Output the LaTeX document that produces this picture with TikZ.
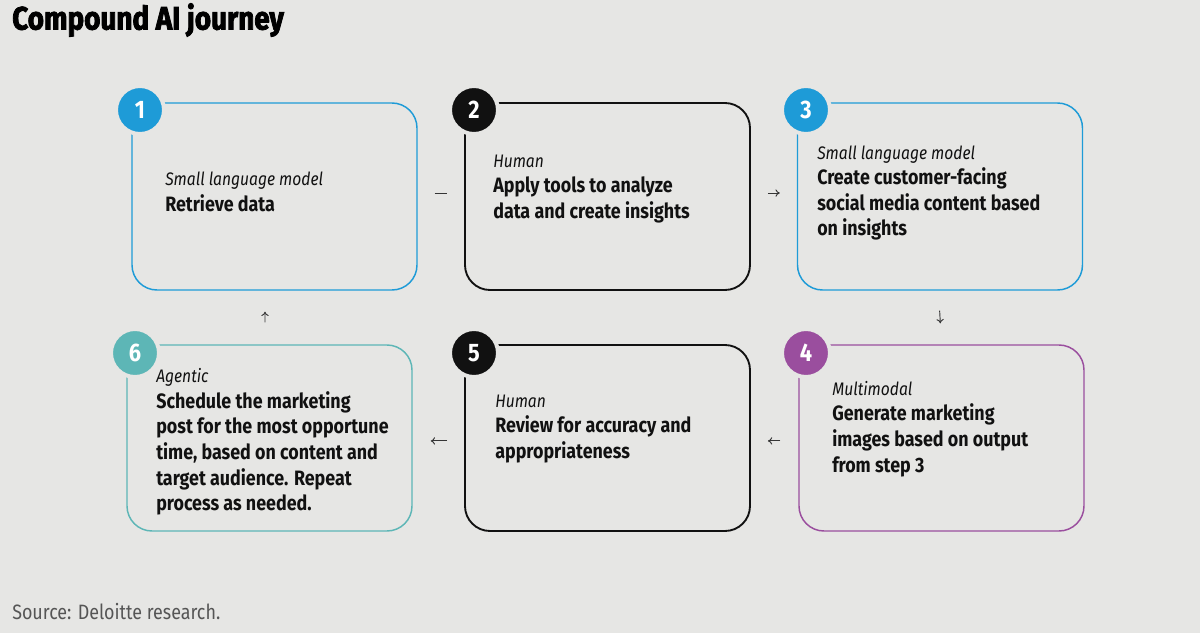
\documentclass[tikz,border=0pt]{standalone}
\usepackage{fontspec}
\setmainfont{Fira Sans}[FakeStretch=0.86]
\newfontfamily\titlefont{Fira Sans}[FakeStretch=0.86,UprightFont=*,BoldFont=* Bold,FakeBold=2.5]
\usetikzlibrary{arrows.meta}
\definecolor{bg}{HTML}{E6E6E4}
\definecolor{cblue}{HTML}{1E9BD7}
\definecolor{cteal}{HTML}{5DB6B6}
\definecolor{cpurple}{HTML}{9A4E9E}
\definecolor{cblack}{HTML}{111111}
\definecolor{srcgray}{HTML}{555555}
\newcommand\mysubl[1]{{\fontsize{13.6}{19.2}\selectfont\mdseries\itshape #1}}
\tikzset{
  stepbox/.style={draw=#1, rounded corners=18.75pt, minimum width=213.75pt, minimum height=140.25pt, line width=1.1pt, inner sep=0pt},
  numdot/.style={circle, fill=#1, draw=bg, line width=3pt, minimum size=36pt, inner sep=0pt, text=white, font=\fontsize{19}{19}\selectfont\bfseries},
  steptext/.style={anchor=west, align=left, inner sep=0pt, text=cblack, font=\fontsize{15.6}{19.2}\selectfont\bfseries},
  conn/.style={line width=0.7pt, draw=cblack!85, -{To[length=3.2pt,width=5.5pt]}},
}
\begin{document}
\begin{tikzpicture}[x=0.75pt,y=-0.75pt]
\useasboundingbox[fill=bg] (0,0) rectangle (1200,633);
\node[anchor=west, inner sep=0pt, font=\fontsize{24.3}{24}\selectfont\titlefont\bfseries] (title) at (12,20) {Compound AI journey};
\node[anchor=west, inner sep=0pt, text=srcgray, font=\fontsize{15.6}{15}\selectfont] (src) at (12,612) {Source: Deloitte research.};

\node[stepbox=cblue] (b1) at (274.5,196.5) {};
\node[stepbox=cblack, line width=1.4pt] (b2) at (607.5,196.5) {};
\node[stepbox=cblue] (b3) at (940,196.5) {};
\node[stepbox=cpurple, minimum height=139.5pt] (b4) at (941.5,438) {};
\node[stepbox=cblack, line width=1.4pt, minimum height=139.5pt] (b5) at (607.5,438) {};
\node[stepbox=cteal, minimum height=139.5pt] (b6) at (269.5,438) {};

\node[numdot=cblue] (n1) at (140,110) {1};
\node[numdot=cblack] (n2) at (474,110) {2};
\node[numdot=cblue] (n3) at (806,110) {3};
\node[numdot=cpurple] (n4) at (806,353) {4};
\node[numdot=cblack] (n5) at (474,353) {5};
\node[numdot=cteal] (n6) at (135,353) {6};

\node[steptext] (t1) at (165,192) {\mysubl{Small language model}\\Retrieve data};
\node[steptext] (t2) at (493,189) {\mysubl{Human}\\Apply tools to analyze\\data and create insights};
\node[steptext] (t3) at (817,193) {\mysubl{Small language model}\\Create customer-facing\\social media content based\\on insights};
\node[steptext] (t4) at (832,429) {\mysubl{Multimodal}\\Generate marketing\\images based on output\\from step 3};
\node[steptext] (t5) at (495,429) {\mysubl{Human}\\Review for accuracy and\\appropriateness};
\node[steptext] (t6) at (156,442) {\mysubl{Agentic}\\Schedule the marketing\\post for the most opportune\\time, based on content and\\target audience. Repeat\\process as needed.};

\draw[line width=0.7pt, draw=cblack!85, shorten <=12.75pt, shorten >=12.75pt] ([yshift=2.6pt]b1.east) -- ([yshift=2.6pt]b2.west);
\draw[conn, shorten <=12.75pt, shorten >=12.75pt] ([yshift=2.6pt]b2.east) -- ([yshift=2.6pt]b3.west);
\draw[conn, shorten <=15pt, shorten >=15.75pt] ([xshift=-1.1pt]b3.south) -- (b4.north);
\draw[conn, shorten <=13.5pt, shorten >=12.75pt] ([yshift=-2.2pt]b4.west) -- ([yshift=-2.2pt]b5.east);
\draw[conn, shorten <=12.75pt, shorten >=13.5pt] ([yshift=-2.2pt]b5.west) -- ([yshift=-2.2pt]b6.east);
\draw[conn, shorten <=16.5pt, shorten >=15.75pt] ([xshift=-3.4pt]b6.north) -- ([xshift=-7.1pt]b1.south);
\end{tikzpicture}
\end{document}
